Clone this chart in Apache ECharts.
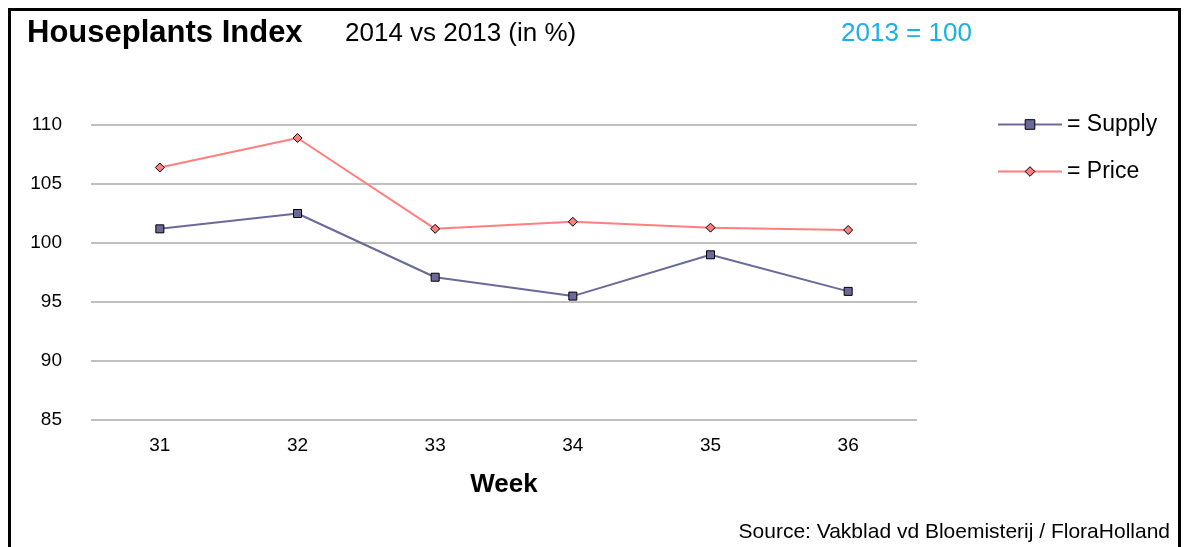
<!DOCTYPE html>
<html><head><meta charset="utf-8">
<script src="https://cdn.jsdelivr.net/npm/echarts@6/dist/echarts.min.js"></script>
<style>
body{margin:0;background:#fff;}
#frame{position:absolute;left:8px;top:8px;width:1167px;height:560px;border:3px solid #000;border-bottom:none;}
#c{position:absolute;left:0;top:0;width:1184px;height:547px;}
</style></head><body>
<div id="frame"></div>
<div id="c"></div>
<script>
const weeks = ['31','32','33','34','35','36'];
const supply = [101.2, 102.5, 97.1, 95.5, 99.0, 95.9];
const price = [106.4, 108.9, 101.2, 101.8, 101.3, 101.1];

const chart = echarts.init(document.getElementById('c'));
const font = '"Liberation Sans", Arial, sans-serif';
chart.setOption({
  animation: false,
  textStyle: {fontFamily: font},
  title: [
    {text: 'Houseplants Index', left: 22, top: 13, textStyle: {fontSize: 31, fontWeight: 'bold', color: '#000', fontFamily: font}},
    {text: '2014 vs 2013 (in %)', left: 340, top: 16, textStyle: {fontSize: 26, fontWeight: 'normal', color: '#000', fontFamily: font}},
    {text: '2013 = 100', left: 836, top: 16, textStyle: {fontSize: 26, fontWeight: 'normal', color: '#1ab0e8', fontFamily: font}},
    {text: 'Source: Vakblad vd Bloemisterij / FloraHolland', right: 9, bottom: -1, textStyle: {fontSize: 21, fontWeight: 'normal', color: '#000', fontFamily: font}}
  ],
  legend: {
    orient: 'vertical', left: 992, top: 108, itemGap: 24,
    itemWidth: 64, itemHeight: 12, itemStyle: {borderWidth: 1},
    textStyle: {fontSize: 23, color: '#000', fontFamily: font},
    formatter: n => '= ' + n,
    data: ['Supply', 'Price']
  },
  grid: {left: 91, right: 267, top: 125, bottom: 127},
  xAxis: {
    type: 'category', data: weeks, boundaryGap: true,
    name: 'Week', nameLocation: 'middle', nameGap: 52,
    nameTextStyle: {fontSize: 26, fontWeight: 'bold', color: '#000'},
    axisLine: {show: false}, axisTick: {show: false},
    axisLabel: {fontSize: 19, color: '#000', margin: 16}
  },
  yAxis: {
    type: 'value', min: 85, max: 110, interval: 5,
    axisLabel: {fontSize: 19, color: '#000', margin: 29},
    splitLine: {lineStyle: {color: '#c0c0c0', width: 2}}
  },
  series: [
    {name: 'Supply', type: 'line', data: supply, symbol: 'rect', symbolSize: 8,
     lineStyle: {color: '#6a6a9a', width: 2},
     itemStyle: {color: '#6a6a9a', borderColor: '#000', borderWidth: 1}},
    {name: 'Price', type: 'line', data: price, symbol: 'diamond', symbolSize: 9,
     lineStyle: {color: '#ff7f7f', width: 2},
     itemStyle: {color: '#ff7f7f', borderColor: '#000', borderWidth: 1}}
  ]
});
</script></body></html>
